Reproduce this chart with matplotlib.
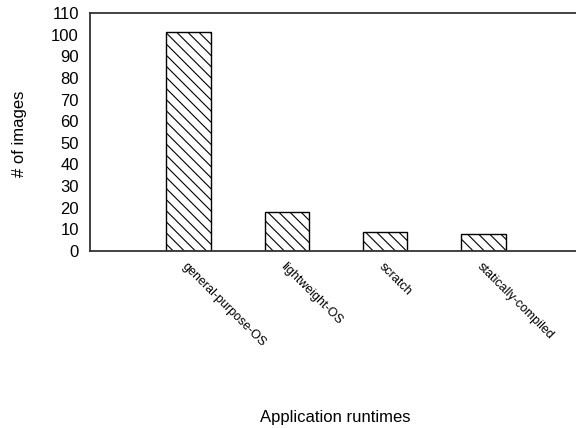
import numpy as np
import matplotlib.pyplot as plt

plt.rcParams['font.family'] = ['Liberation Sans', 'DejaVu Sans']
plt.rcParams['hatch.linewidth'] = 0.8

# data
runtimes = ['general-purpose-OS', 'lightweight-OS', 'scratch', 'statically-compiled']
counts = [101, 18, 9, 8]

fig = plt.figure(figsize=(5.76, 4.28), dpi=100)
ax = fig.add_axes([90 / 576, 1 - 251 / 428, 1 - 90 / 576, (251 - 13) / 428])

x = np.arange(len(runtimes))
ax.bar(x, counts, width=0.45, color='white', edgecolor='black', hatch='\\\\\\', linewidth=1)

ax.set_xlim(-1, 3.94)
ax.set_ylim(0, 110)
ax.set_yticks(range(0, 111, 10))
ax.tick_params(axis='y', length=0, labelsize=12, pad=8)
ax.tick_params(axis='x', length=0, labelsize=9, pad=7)
ax.set_xticks(x)
ax.set_xticklabels(runtimes, rotation=-45, ha='left', rotation_mode='anchor')

ax.spines['right'].set_visible(False)
for s in ['left', 'top', 'bottom']:
    ax.spines[s].set_linewidth(1.3)
    ax.spines[s].set_color('#333333')

ax.set_ylabel('# of images', fontsize=12)
ax.yaxis.set_label_coords(-0.13, 0.494)
ax.set_xlabel('Application runtimes', fontsize=12)
ax.xaxis.set_label_coords(0.504, -0.667)

fig.savefig('out.png', dpi=100)
